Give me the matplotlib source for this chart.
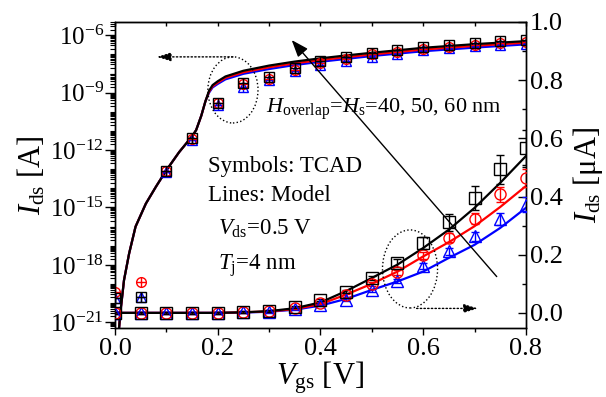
import numpy as np
import matplotlib.pyplot as plt
from matplotlib.patches import Ellipse
from matplotlib.ticker import FixedLocator, LogLocator, MultipleLocator, NullFormatter

plt.rcParams['font.family'] = ['Liberation Serif', 'DejaVu Serif']
plt.rcParams['mathtext.fontset'] = 'custom'
plt.rcParams['mathtext.rm'] = 'Liberation Serif'
plt.rcParams['mathtext.it'] = 'Liberation Serif:italic'
plt.rcParams['mathtext.bf'] = 'Liberation Serif:bold'

# === TCAD DATA (Ids in A) ===
vgs_tcad = [0.0, 0.05, 0.1, 0.15, 0.2, 0.25, 0.3, 0.35, 0.4,
            0.45, 0.5, 0.55, 0.6, 0.65, 0.7, 0.75, 0.8]
ids_tcad_h60 = [1.8e-20, 2.1e-20, 7.9e-14, 4.3e-12, 3.0e-10, 3.3e-9, 7.0e-9, 2.0e-8, 4.5e-8,
                7.3e-8, 1.2e-7, 1.71e-7, 2.4e-7, 3.11e-7, 3.95e-7, 4.93e-7, 5.68e-7]
ids_tcad_h50 = [3.8e-20, 1.3e-19, 7.9e-14, 4.0e-12, 2.8e-10, 2.7e-9, 5.5e-9, 1.6e-8, 3.5e-8,
                6.0e-8, 1.0e-7, 1.39e-7, 1.98e-7, 2.58e-7, 3.24e-7, 4.07e-7, 4.64e-7]
ids_tcad_h40 = [1.8e-20, 2.1e-20, 7.1e-14, 3.5e-12, 2.2e-10, 1.9e-9, 4.5e-9, 1.3e-8, 2.8e-8,
                4.5e-8, 7.8e-8, 1.1e-7, 1.62e-7, 2.11e-7, 2.63e-7, 3.23e-7, 3.72e-7]

# error bars on the linear scale (uA)
err_h60 = [0.004, 0.004, 0.004, 0.004, 0.004, 0.004, 0.004, 0.004, 0.004,
           0.005, 0.008, 0.015, 0.02, 0.03, 0.04, 0.05, 0.06]
err_h50 = [0.004, 0.004, 0.004, 0.004, 0.004, 0.004, 0.004, 0.004, 0.004,
           0.005, 0.006, 0.01, 0.012, 0.015, 0.02, 0.025, 0.03]
err_h40 = [0.004, 0.004, 0.004, 0.004, 0.004, 0.004, 0.004, 0.004, 0.004,
           0.005, 0.005, 0.008, 0.01, 0.013, 0.016, 0.02, 0.025]

# === MODEL, LOG SCALE (log10 of Ids in A) ===
vgs_model_log = [0.007, 0.01, 0.0175, 0.0275, 0.04, 0.06, 0.08, 0.1, 0.125, 0.15, 0.158,
                 0.168, 0.176, 0.183, 0.19, 0.2, 0.215, 0.25, 0.3, 0.35, 0.4, 0.45,
                 0.5, 0.6, 0.7, 0.8]
logi_model_h60 = [-21.6, -20.6, -18.8, -17.4, -16.0, -14.8, -13.9, -13.05, -12.1, -11.28, -10.95,
                  -10.2, -9.45, -8.9, -8.6, -8.4, -8.15, -7.85, -7.58, -7.37, -7.2, -7.05,
                  -6.91, -6.65, -6.46, -6.30]
logi_model_h50 = [-21.6, -20.6, -18.8, -17.4, -16.0, -14.8, -13.9, -13.05, -12.1, -11.28, -10.95,
                  -10.2, -9.45, -8.95, -8.66, -8.47, -8.22, -7.93, -7.67, -7.46, -7.29, -7.14,
                  -7.0, -6.74, -6.55, -6.38]
logi_model_h40 = [-21.6, -20.6, -18.8, -17.4, -16.0, -14.8, -13.9, -13.05, -12.1, -11.28, -10.95,
                  -10.2, -9.45, -9.0, -8.72, -8.54, -8.3, -8.01, -7.76, -7.55, -7.38, -7.23,
                  -7.08, -6.83, -6.64, -6.47]

# === MODEL, LINEAR SCALE (Ids in uA) ===
vgs_model_lin = [0.0, 0.1, 0.2, 0.25, 0.3, 0.35, 0.4, 0.45, 0.5,
                 0.55, 0.6, 0.65, 0.7, 0.75, 0.8]
ids_model_h60 = [0.0, 0.0, 0.0, 0.002, 0.006, 0.016, 0.036, 0.075, 0.12,
                 0.166, 0.223, 0.286, 0.361, 0.447, 0.539]
ids_model_h50 = [0.0, 0.0, 0.0, 0.002, 0.005, 0.013, 0.03, 0.063, 0.1,
                 0.142, 0.194, 0.243, 0.298, 0.364, 0.436]
ids_model_h40 = [0.0, 0.0, 0.0, 0.001, 0.004, 0.011, 0.025, 0.048, 0.079,
                 0.108, 0.142, 0.189, 0.234, 0.292, 0.361]

series = [
    # (tcad, err, model log, model lin, color, marker)
    (ids_tcad_h40, err_h40, logi_model_h40, ids_model_h40, '#0000ff', '^'),
    (ids_tcad_h50, err_h50, logi_model_h50, ids_model_h50, '#ff0000', 'o'),
    (ids_tcad_h60, err_h60, logi_model_h60, ids_model_h60, '#000000', 's'),
]

fig = plt.figure(figsize=(6.06, 3.97), dpi=100)
ax = fig.add_axes([0.1898, 0.1738, 0.678, 0.7708])
ax2 = ax.twinx()

for tcad, err, mlog, mlin, color, marker in series:
    tcad = np.array(tcad)
    # left axis: log scale
    ax.plot(vgs_model_log, 10 ** np.array(mlog), color=color, lw=1.6, zorder=2)
    ax.plot(vgs_tcad, tcad, ls='none', marker=marker, ms=7, mfc='none',
            mec=color, mew=1.0, zorder=3)
    ax.plot(vgs_tcad, tcad, ls='none', marker='+', ms=7, mec=color, mew=1.0, zorder=3)
    # right axis: linear scale
    ax2.plot(vgs_model_lin, mlin, color=color, lw=1.6, zorder=2)
    ax2.errorbar(vgs_tcad, tcad * 1e6, yerr=err, ls='none', marker=marker, ms=8,
                 mfc='none', mec=color, mew=1.0, ecolor=color, elinewidth=1.0,
                 capsize=3, capthick=1.0, zorder=3)

# axes ranges
ax.set_xlim(0, 0.8)
ax.set_yscale('log')
ax.set_ylim(5e-22, 5e-6)
ax2.set_ylim(-0.052, 1.0)

# ticks
ax.xaxis.set_major_locator(MultipleLocator(0.2))
ax.xaxis.set_minor_locator(MultipleLocator(0.1))
ax.xaxis.set_major_formatter(plt.FuncFormatter(lambda v, p: f'{v:.1f}'))
ax.tick_params(axis='x', which='major', direction='out', length=5, width=1, labelsize=19, pad=2)
ax.tick_params(axis='x', which='minor', direction='out', length=3, width=1)

ax.yaxis.set_major_locator(FixedLocator([1e-21, 1e-18, 1e-15, 1e-12, 1e-9, 1e-6]))
ax.yaxis.set_major_formatter(plt.FuncFormatter(lambda v, p: r'$10^{%d}$' % round(np.log10(v))))
ax.yaxis.set_minor_locator(LogLocator(base=10, subs=np.arange(1, 10), numticks=100))
ax.yaxis.set_minor_formatter(NullFormatter())
ax.tick_params(axis='y', which='major', direction='out', length=7, width=1, labelsize=18, pad=1)
ax.tick_params(axis='y', which='minor', direction='out', length=3.5, width=0.8)

ax2.yaxis.set_major_locator(MultipleLocator(0.2))
ax2.yaxis.set_minor_locator(MultipleLocator(0.1))
ax2.yaxis.set_major_formatter(plt.FuncFormatter(lambda v, p: f'{v:.1f}'))
ax2.tick_params(axis='y', which='major', direction='in', length=6, width=1, labelsize=19, pad=3)
ax2.tick_params(axis='y', which='minor', direction='in', length=3, width=1)

top = ax.secondary_xaxis('top')
top.xaxis.set_major_locator(MultipleLocator(0.1))
top.tick_params(direction='in', length=3, width=1, labeltop=False)

for a in (ax, ax2):
    for s in a.spines.values():
        s.set_linewidth(1.0)

ax.set_xlabel(r'$V_{\mathrm{gs}}$ [V]', fontsize=22, labelpad=0)
ax.set_ylabel(r'$I_{\mathrm{ds}}$ [A]', fontsize=22, labelpad=2)
ax2.set_ylabel(r'$I_{\mathrm{ds}}$ [μA]', fontsize=22, labelpad=6)

# annotations
tr = ax2.transAxes
ax2.text(0.367, 0.703, r'$H_{\mathrm{overlap}}$=$H_{\mathrm{s}}$=40, 50, 60 nm',
         transform=tr, fontsize=16, va='baseline')
ax2.text(0.226, 0.511, 'Symbols: TCAD', transform=tr, fontsize=16.5, va='baseline')
ax2.text(0.226, 0.414, 'Lines: Model', transform=tr, fontsize=16.5, va='baseline')
ax2.text(0.251, 0.304, r'$V_{\mathrm{ds}}$=0.5 V', transform=tr, fontsize=16.5, va='baseline')
ax2.text(0.251, 0.190, r'$T_{\mathrm{j}}$=4 nm', transform=tr, fontsize=16.5, va='baseline')

ax2.add_patch(Ellipse((0.287, 0.778), 0.122, 0.216, transform=tr, fill=False,
                      ls=':', lw=1.0, color='k', zorder=4))
ax2.add_patch(Ellipse((0.718, 0.193), 0.134, 0.255, transform=tr, fill=False,
                      ls=':', lw=1.0, color='k', zorder=4))

dotted = dict(arrowstyle='-|>,head_length=0.7,head_width=0.22', ls=':', lw=1.0,
              color='k', mutation_scale=12, shrinkA=0, shrinkB=0)
ax2.annotate('', xy=(0.102, 0.886), xytext=(0.287, 0.886), xycoords='axes fraction',
             textcoords='axes fraction', arrowprops=dotted)
ax2.annotate('', xy=(0.883, 0.064), xytext=(0.734, 0.064), xycoords='axes fraction',
             textcoords='axes fraction', arrowprops=dotted)
ax2.annotate('', xy=(0.430, 0.941), xytext=(0.929, 0.168), xycoords='axes fraction',
             textcoords='axes fraction',
             arrowprops=dict(arrowstyle='-|>,head_length=0.8,head_width=0.3', lw=1.0,
                             color='k', mutation_scale=13, shrinkA=0, shrinkB=0))

fig.savefig('out.png', dpi=100)
